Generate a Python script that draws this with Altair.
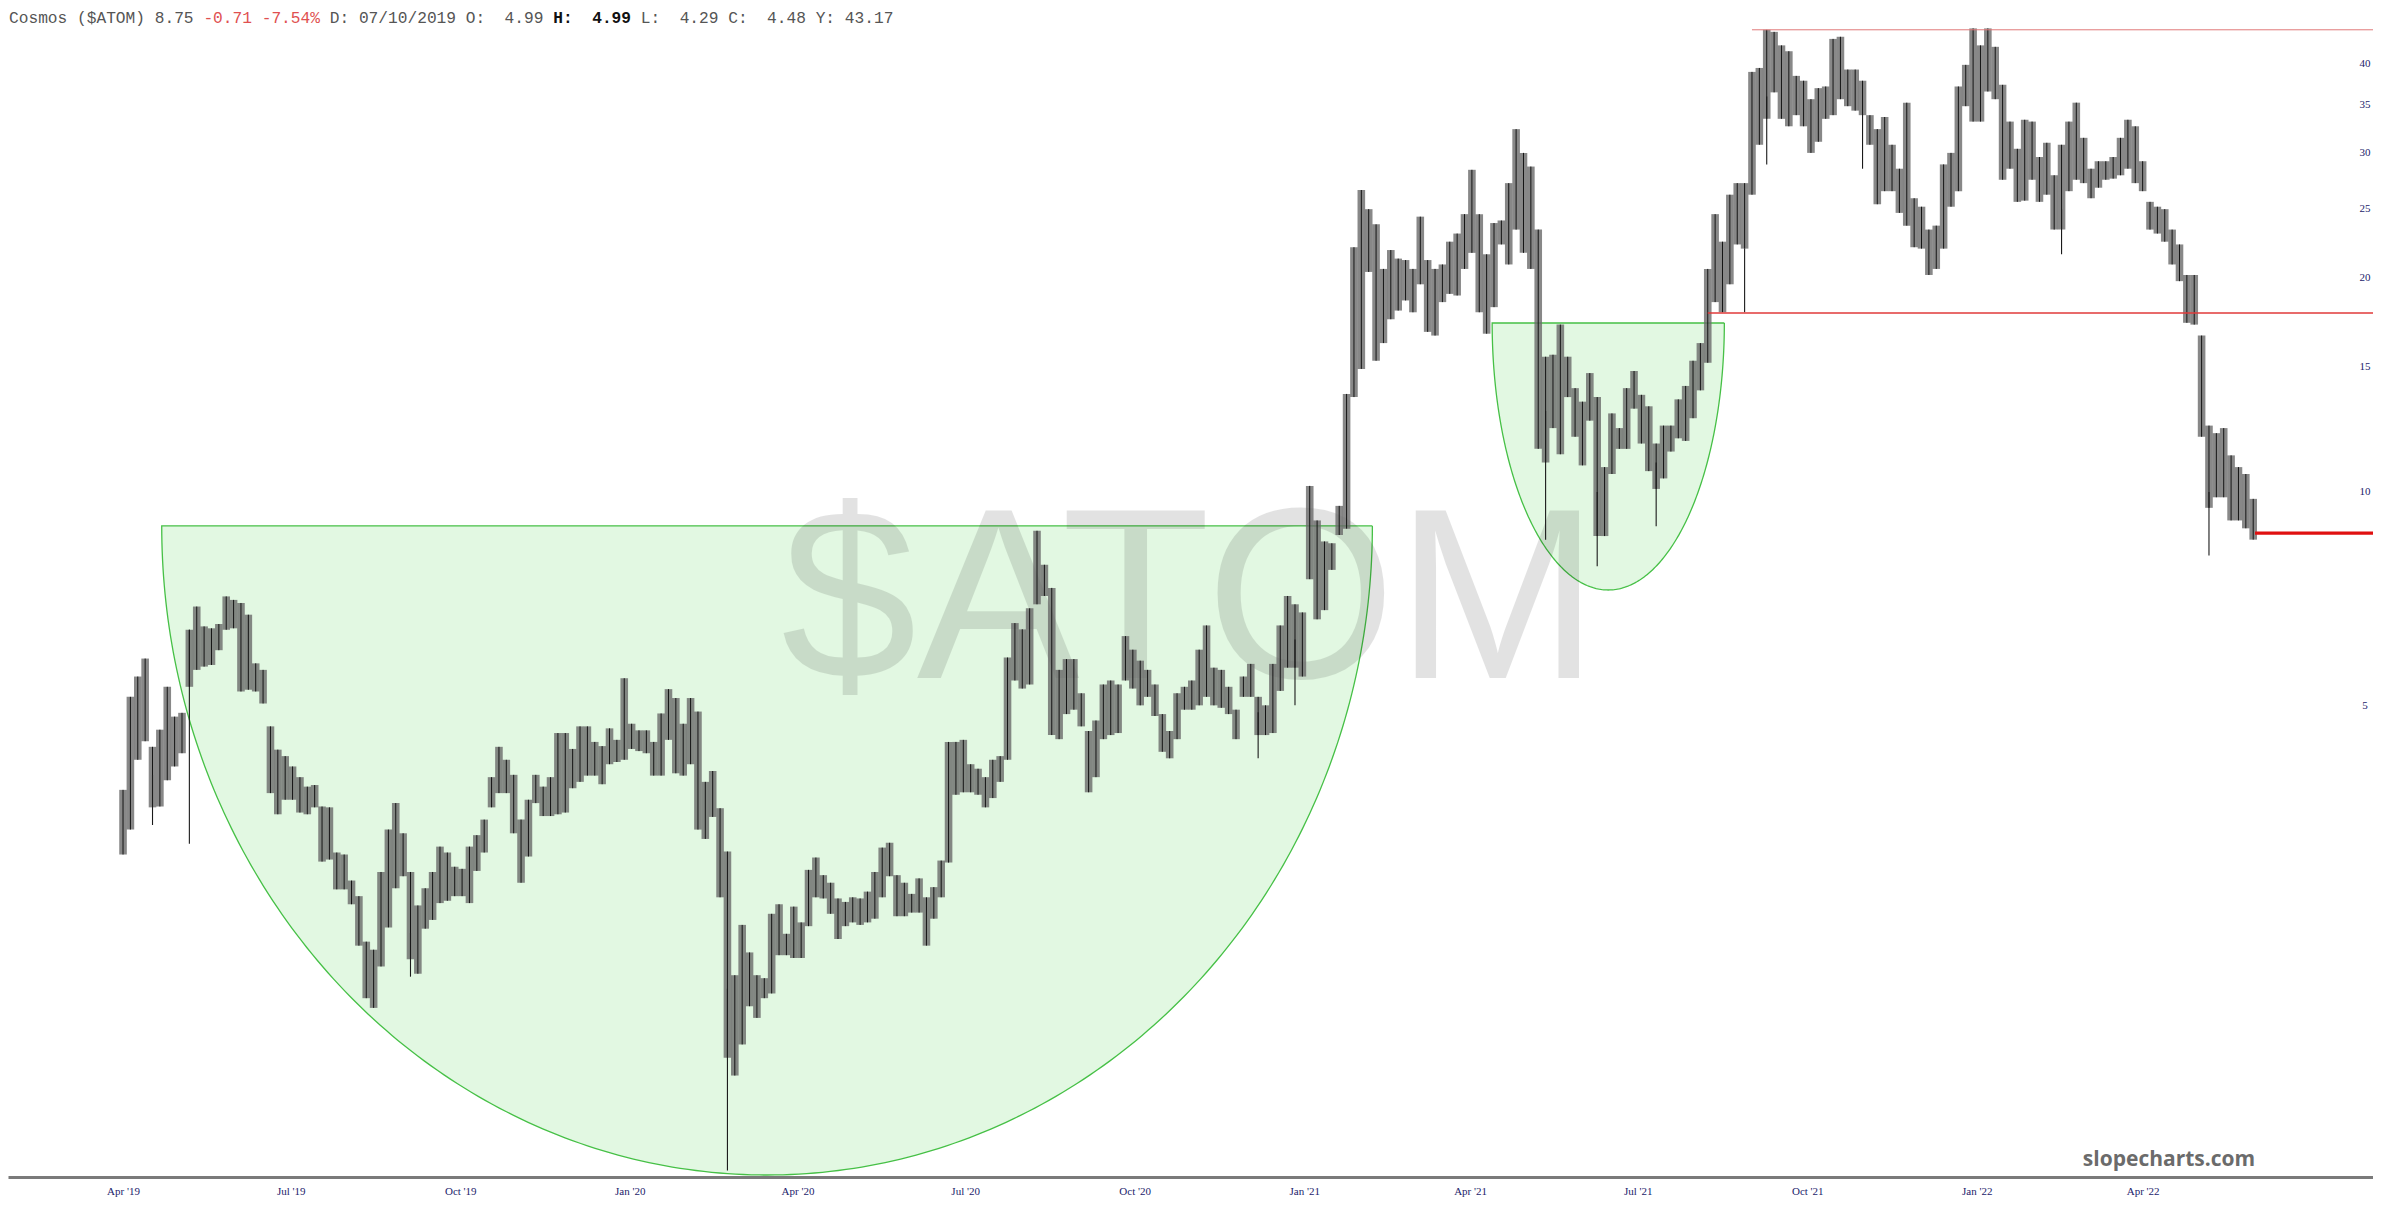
import altair as alt
import numpy as np
import pandas as pd

# ---------------- data ----------------
bar_start = "2019-04-01"          # first 4-day bucket
bar_step_days = 4

high = [
    3.81, 5.15, 5.50, 5.83, 4.38, 4.63, 5.32, 4.83, 4.89, 6.40,
    6.90, 6.47, 6.43, 6.52, 7.13, 7.05, 6.98, 6.72, 5.74, 5.62,
    4.68, 4.34, 4.25, 4.11, 3.97, 3.85, 3.87, 3.61, 3.60, 3.11,
    3.09, 2.84, 2.70, 2.33, 2.27, 2.92, 3.35, 3.65, 3.31, 2.92,
    2.62, 2.77, 2.92, 3.17, 3.11, 2.97, 2.95, 3.17, 3.29, 3.46,
    3.97, 4.38, 4.20, 4.00, 3.46, 3.69, 4.00, 3.85, 3.97,
    4.58, 4.58, 4.35, 4.68, 4.68, 4.45, 4.39, 4.65, 4.48, 5.47,
    4.72, 4.62, 4.62, 4.45, 4.88, 5.28, 5.13, 4.72, 5.13, 4.91,
    3.91, 4.05, 3.59, 3.12, 2.09, 2.46, 2.25, 2.09, 2.07, 2.55,
    2.63, 2.39, 2.61, 2.48, 2.94, 3.06, 2.89, 2.82, 2.68, 2.65,
    2.69, 2.68, 2.74, 2.92, 3.16, 3.21, 2.89, 2.82, 2.72, 2.86,
    2.69, 2.78, 3.03, 4.45, 4.45, 4.48, 4.14, 4.08,
    3.97, 4.20, 4.25, 5.85, 6.54, 6.41, 6.86, 8.82, 7.90, 7.33,
    5.62, 5.82, 5.82, 5.21, 4.61, 4.77, 5.36, 5.43, 5.36, 6.27,
    6.00, 5.79, 5.62, 5.36, 4.87, 4.61, 5.21, 5.32, 5.43, 6.00,
    6.49, 5.66, 5.62, 5.32, 4.94, 5.50, 5.73, 5.15, 5.01, 5.73,
    6.49, 7.14, 6.95, 6.77, 10.20, 9.12, 8.52, 8.47, 9.56, 13.74,
    22.1, 26.6, 25.0, 23.8, 20.6, 21.9, 21.3, 21.2,
    20.6, 24.4, 21.2, 20.6, 20.9, 22.5, 23.1, 24.6, 28.4, 24.6,
    21.6, 23.9, 24.1, 27.2, 32.4, 30.0, 28.7, 23.4, 15.5, 15.6,
    17.2, 15.5, 14.0, 13.4, 14.7, 13.6, 10.84, 12.9, 12.3, 14.0,
    14.8, 13.7, 13.2, 11.7, 12.4, 12.4, 13.5, 14.1, 15.3, 16.2,
    20.6, 24.6, 22.5, 26.2, 27.2, 27.2, 39.0, 39.5, 44.7, 44.4,
    42.5, 41.7, 38.5, 37.9, 35.7, 37.0, 37.2, 43.4,
    43.7, 39.3, 39.3, 37.9, 33.9, 32.4, 33.7, 30.8, 28.5, 35.3,
    25.9, 25.2, 23.4, 23.7, 28.9, 30.0, 37.2, 39.9, 44.9, 42.5,
    44.9, 42.3, 37.4, 33.2, 30.4, 33.4, 33.2, 29.6, 31.0, 27.9,
    30.8, 33.2, 35.3, 31.5, 28.5, 29.2, 29.2, 29.6, 31.5, 33.4,
    32.7, 29.2, 25.6, 25.2, 25.0, 23.4, 22.3, 20.2, 20.2, 16.6,
    12.4, 12.1, 12.3, 11.26, 10.84, 10.6, 9.78,
]

low = [
    3.09, 3.35, 4.20, 4.46, 3.60, 3.61, 3.93, 4.11, 4.29, 5.32,
    5.62, 5.68, 5.71, 5.99, 6.40, 6.43, 5.24, 5.27, 5.24, 5.04,
    3.77, 3.52, 3.69, 3.69, 3.54, 3.52, 3.60, 3.02, 3.04, 2.76,
    2.76, 2.63, 2.30, 1.94, 1.88, 2.15, 2.44, 2.77, 2.88, 2.20,
    2.10, 2.43, 2.50, 2.64, 2.66, 2.70, 2.70, 2.64, 2.93, 3.11,
    3.60, 3.77, 3.77, 3.31, 2.82, 3.07, 3.65, 3.50, 3.50,
    3.52, 3.54, 3.83, 3.91, 3.99, 3.99, 3.88, 4.14, 4.17, 4.20,
    4.35, 4.32, 4.29, 3.99, 3.99, 4.48, 4.02, 3.99, 4.14, 3.35,
    3.25, 3.49, 2.69, 1.60, 1.51, 1.67, 1.89, 1.82, 1.94, 1.97,
    2.23, 2.23, 2.21, 2.21, 2.45, 2.69, 2.68, 2.55, 2.35, 2.45,
    2.48, 2.46, 2.48, 2.51, 2.69, 2.88, 2.53, 2.53, 2.56, 2.56,
    2.30, 2.51, 2.69, 3.01, 3.75, 3.78, 3.78, 3.75,
    3.60, 3.71, 3.91, 4.20, 5.43, 5.29, 5.36, 6.95, 7.14, 4.55,
    4.49, 4.87, 4.94, 4.68, 3.78, 3.97, 4.49, 4.55, 4.58, 5.43,
    5.29, 5.01, 5.15, 4.84, 4.31, 4.22, 4.49, 4.94, 4.94, 5.01,
    5.15, 5.01, 4.97, 4.87, 4.49, 5.15, 5.15, 4.55, 4.55, 4.58,
    5.25, 5.66, 5.66, 5.50, 7.54, 6.62, 6.82, 7.77, 8.70, 8.88,
    13.60, 14.9, 20.4, 15.3, 16.2, 17.5, 18.0, 18.6,
    17.9, 19.6, 16.8, 16.6, 18.5, 19.0, 18.9, 20.6, 21.7, 17.9,
    16.7, 18.2, 22.3, 20.9, 23.4, 21.7, 20.6, 11.5, 11.0, 12.3,
    11.3, 13.6, 11.96, 10.9, 12.6, 8.67, 8.67, 10.6, 11.5, 11.5,
    13.1, 11.7, 10.7, 10.1, 10.45, 11.4, 11.9, 11.8, 12.7, 13.9,
    15.2, 18.5, 17.9, 19.6, 22.3, 22.0, 26.2, 30.8, 33.5, 36.5,
    33.5, 32.7, 33.9, 32.7, 30.0, 31.1, 33.5, 33.9,
    35.7, 34.9, 34.4, 33.9, 30.8, 25.4, 26.5, 26.5, 24.7, 23.7,
    22.1, 22.0, 20.2, 20.6, 22.0, 25.2, 26.5, 34.9, 33.2, 33.2,
    36.6, 35.7, 27.5, 28.5, 25.6, 25.7, 27.5, 25.6, 26.2, 23.4,
    23.4, 26.5, 27.5, 27.2, 25.9, 26.8, 27.5, 27.6, 27.9, 28.5,
    27.2, 26.5, 23.4, 23.1, 22.5, 20.9, 19.8, 17.3, 17.2, 11.96,
    9.5, 9.83, 9.83, 9.12, 9.12, 8.89, 8.57,
]

# long single-day wicks
spike_dates = ["2019-04-17", "2019-05-07", "2019-09-04", "2020-02-23", "2020-12-07",
               "2020-12-27", "2021-05-12", "2021-06-09", "2021-07-11", "2021-08-28",
               "2021-09-09", "2021-10-31", "2022-02-16", "2022-05-07"]
spike_low = [3.40, 3.20, 2.08, 1.11, 4.22, 5.01, 8.57, 7.86, 8.95, 17.9, 28.9, 28.5, 21.6, 8.14]
spike_high = [4.0, 6.40, 2.4, 2.0, 4.9, 6.2, 13.0, 10.0, 11.0, 22.0, 36.0, 34.0, 25.0, 10.0]

# drawn annotations (cup shapes and horizontal levels)
bowl_left = ["2019-04-22", "2021-04-13"]
bowl_right = ["2021-02-07", "2021-08-17"]
bowl_top = [8.96, 17.29]
bowl_bottom = [1.094, 7.28]

level_start = ["2021-09-01", "2021-08-08", "2022-06-01"]
level_price = [44.7, 17.86, 8.75]

y_ticks = [5, 10, 15, 20, 25, 30, 35, 40]
x_ticks = ["2019-04-01", "2019-07-01", "2019-10-01", "2020-01-01", "2020-04-01",
           "2020-07-01", "2020-10-01", "2021-01-01", "2021-04-01", "2021-07-01",
           "2021-10-01", "2022-01-01", "2022-04-01"]

# ---------------- helpers ----------------
EPOCH = pd.Timestamp("1970-01-01")
DAY_MS = 86400000.0


def ms(s):
    return float((pd.Timestamp(s) - EPOCH) / pd.Timedelta(milliseconds=1))


assert len(high) == len(low)
n = len(high)
bar_t = [ms(bar_start) + i * bar_step_days * DAY_MS for i in range(n)]
bars = pd.DataFrame({"t": bar_t, "hi": high, "lo": low})
spikes = pd.DataFrame({"t": [ms(d) for d in spike_dates], "lo": spike_low, "hi": spike_high})

# bowls: half ellipses drawn in scale space
theta = np.linspace(0, np.pi, 241)
bowl_fill = []
bowl_edge = []
for b in range(len(bowl_left)):
    l, r = ms(bowl_left[b]), ms(bowl_right[b])
    cx, ax = (l + r) / 2, (r - l) / 2
    lt, lb = np.log(bowl_top[b]), np.log(bowl_bottom[b])
    rows = []
    for th in theta[::-1]:
        rows.append({"t": cx - ax * np.cos(th),
                     "y": float(np.exp(lt - (lt - lb) * np.sin(th))),
                     "top": bowl_top[b]})
    df = pd.DataFrame(rows)
    bowl_fill.append(df)
    edge = pd.concat([df, df.iloc[[0]]], ignore_index=True)
    edge["i"] = range(len(edge))
    bowl_edge.append(edge)

levels = pd.DataFrame({"t": [ms(d) for d in level_start], "p": level_price})

# ---------------- scales ----------------
W, H = 2365, 1169
base = ms("2019-04-01")
x_dom = [base - 59.71 * DAY_MS, base + 1218.3 * DAY_MS]
y_dom = [1.087, 47.97]

xs = alt.Scale(domain=x_dom, nice=False, zero=False)
ys = alt.Scale(type="log", domain=y_dom, nice=False, zero=False)

x_axis = alt.Axis(values=[ms(d) for d in x_ticks],
                  labelExpr='utcFormat(datum.value, "%b \'%y")',
                  ticks=False, grid=False, domainColor="#7a7a7a", domainWidth=3,
                  labelColor="#1c1c6b", labelFont="Liberation Serif", labelFontSize=11,
                  labelPadding=8, title=None, labelFlush=False, labelOverlap=False)


def X(field="t"):
    return alt.X(f"{field}:Q", scale=xs, axis=x_axis)


def Y(field):
    return alt.Y(f"{field}:Q", scale=ys, axis=None)


# ---------------- layers ----------------
bowl_layers = []
for b in range(len(bowl_left)):
    bowl_layers.append(
        alt.Chart(bowl_fill[b]).mark_area(color="#e2f8e2", opacity=1).encode(
            x=X(), y=Y("y"), y2="top:Q")
    )
    bowl_layers.append(
        alt.Chart(bowl_edge[b]).mark_line(color="#46c046", strokeWidth=1.3).encode(
            x=X(), y=Y("y"), order="i:Q")
    )

watermark = alt.Chart(pd.DataFrame({"s": ["$ATOM"]})).mark_text(
    font="Liberation Sans", fontSize=244, color="#000000", opacity=0.11,
    align="center", baseline="alphabetic"
).encode(x=alt.value(1182), y=alt.value(670), text="s:N")

bodies = alt.Chart(bars).mark_bar(
    size=7.6, color="#6a6a6a", fillOpacity=0.8
).encode(x=X(), y=Y("lo"), y2="hi:Q")

centers = alt.Chart(bars).mark_rule(color="#141414", strokeWidth=1.0).encode(
    x=X(), y=Y("lo"), y2="hi:Q")

wicks = alt.Chart(spikes).mark_rule(color="#1a1a1a", strokeWidth=1.1).encode(
    x=X(), y=Y("lo"), y2="hi:Q")

level_styles = [("#e07a7a", 1.0), ("#e03a3a", 1.4), ("#e01010", 3.2)]
level_layers = []
for i, (col, w) in enumerate(level_styles):
    level_layers.append(
        alt.Chart(levels.iloc[[i]]).mark_rule(color=col, strokeWidth=w).encode(
            x=X(), x2=alt.value(W), y=Y("p"))
    )

ylabels = alt.Chart(pd.DataFrame({"v": y_ticks})).mark_text(
    font="Liberation Serif", fontSize=11, color="#1c1c6b", align="center", baseline="middle"
).encode(x=alt.value(2357), y=Y("v"), text="v:Q")

# header (monospace, split for colours; NBSP keeps the double spaces)
cw = 9.72
NB = "\u00a0"
header_parts = [
    ("Cosmos ($ATOM) 8.75", 0, "#555555", "normal"),
    ("-0.71 -7.54%", 20, "#e05050", "normal"),
    ("D: 07/10/2019 O:" + NB + NB + "4.99", 33, "#555555", "normal"),
    ("H:" + NB + NB + "4.99", 56, "#111111", "bold"),
    ("L:" + NB + NB + "4.29 C:" + NB + NB + "4.48 Y: 43.17", 65, "#555555", "normal"),
]
header_layers = []
for txt, idx, col, fw in header_parts:
    header_layers.append(
        alt.Chart(pd.DataFrame({"s": [txt]})).mark_text(
            font="Liberation Mono", fontSize=16.2, color=col, fontWeight=fw,
            align="left", baseline="middle"
        ).encode(x=alt.value(1 + idx * cw), y=alt.value(10), text="s:N")
    )

brand = alt.Chart(pd.DataFrame({"s": ["slopecharts.com"]})).mark_text(
    font="Open Sans", fontSize=21, fontWeight="bold", color="#6b6b6b",
    align="center", baseline="middle"
).encode(x=alt.value(2161), y=alt.value(1152), text="s:N")

chart = alt.layer(
    *bowl_layers, watermark, bodies, centers, wicks, *level_layers, ylabels,
    *header_layers, brand
).properties(
    width=W, height=H,
    autosize=alt.AutoSizeParams(type="none"),
    padding={"left": 0, "top": 0, "right": 0, "bottom": 33},
    background="white",
).configure_view(stroke=None)

chart.save("out.html", embed_options={"renderer": "svg", "actions": False})
